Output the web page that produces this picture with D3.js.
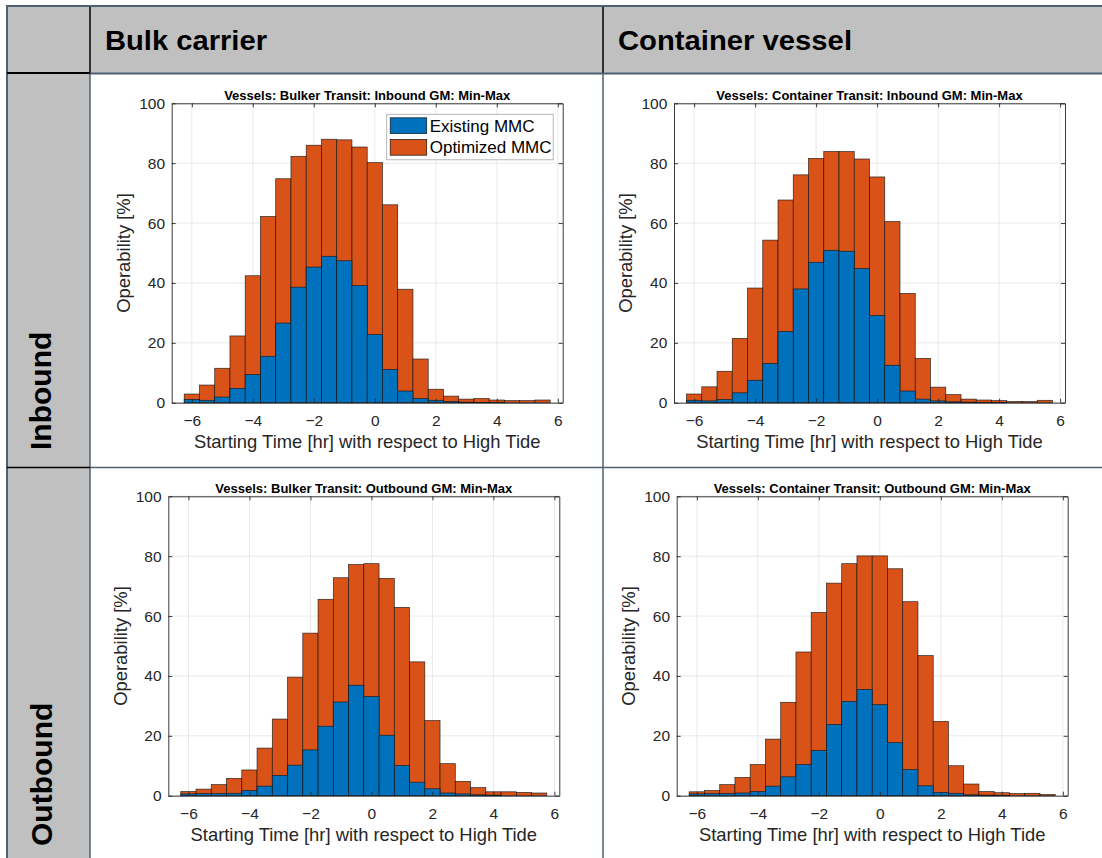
<!DOCTYPE html>
<html>
<head>
<meta charset="utf-8">
<script src="https://cdn.jsdelivr.net/npm/d3@7"></script>
<style>
    body { margin: 0; background: #fff; }
    svg { display: block; font-family: "Liberation Sans", Arial, sans-serif; }
</style>
</head>
<body>
<svg id="sheet" width="1102" height="858"></svg>
<script>
// bin centres (hours relative to high tide)
const binCenters = [-6, -5.5, -5, -4.5, -4, -3.5, -3, -2.5, -2, -1.5, -1, -0.5,
                    0, 0.5, 1, 1.5, 2, 2.5, 3, 3.5, 4, 4.5, 5, 5.5];
const xTicks = [-6, -4, -2, 0, 2, 4, 6];
const yTicks = [0, 20, 40, 60, 80, 100];

const columnHeaders = ["Bulk carrier", "Container vessel"];
const rowHeaders = ["Inbound", "Outbound"];
const seriesNames = ["Existing MMC", "Optimized MMC"];

const bulkInboundExisting = [1.1, 0.8, 1.9, 4.8, 9.4, 15.5, 26.6, 38.6, 45.3, 48.9, 47.4, 39.1,
                             22.8, 11.1, 3.9, 1.4, 0.8, 0.4, 0.2, 0.1, 0.05, 0, 0, 0];
const bulkInboundOptimized = [2.9, 5.9, 11.5, 22.3, 42.4, 62.2, 74.8, 82.3, 86.0, 88.0, 87.8, 85.4,
                              80.2, 66.1, 37.9, 14.6, 4.5, 2.2, 1.2, 1.4, 0.9, 0.7, 0.7, 0.9];

const containerInboundExisting = [0.8, 0.6, 1.1, 3.3, 7.5, 13.1, 23.8, 38.0, 46.9, 50.9, 50.6, 44.8,
                                  29.1, 12.5, 3.9, 1.2, 0.6, 0.3, 0.2, 0.1, 0.05, 0, 0, 0];
const containerInboundOptimized = [2.9, 5.3, 10.5, 21.5, 38.3, 54.3, 67.7, 76.1, 81.6, 83.9, 83.9, 81.4,
                                   75.4, 60.5, 36.5, 14.8, 5.2, 2.7, 1.2, 0.9, 0.7, 0.4, 0.4, 0.8];

const bulkOutboundExisting = [0.6, 0.7, 0.7, 0.8, 1.7, 3.2, 6.8, 10.2, 15.3, 23.2, 31.3, 36.9,
                              33.1, 20.2, 10.1, 4.5, 2.3, 0.9, 0.6, 0.3, 0.2, 0, 0, 0];
const bulkOutboundOptimized = [1.4, 2.2, 3.7, 5.8, 8.6, 15.9, 25.6, 39.6, 54.3, 65.6, 72.8, 77.2,
                               77.5, 72.6, 62.9, 44.7, 25.1, 10.7, 4.8, 2.7, 1.3, 1.3, 1.1, 0.9];

const containerOutboundExisting = [0.6, 0.7, 0.7, 0.9, 1.4, 3.2, 6.3, 10.4, 15.1, 23.8, 31.5, 35.5,
                                   30.4, 17.7, 8.7, 3.3, 1.1, 0.8, 0.3, 0.2, 0.1, 0, 0, 0];
const containerOutboundOptimized = [1.3, 1.7, 3.7, 6.1, 10.4, 18.9, 31.2, 48.0, 61.2, 71.0, 77.5, 80.1,
                                    80.1, 75.8, 64.8, 46.8, 24.8, 10.0, 3.9, 1.4, 1.0, 0.7, 0.8, 0.4];

const panelTitles = [
    "Vessels: Bulker Transit: Inbound GM: Min-Max",
    "Vessels: Container Transit: Inbound GM: Min-Max",
    "Vessels: Bulker Transit: Outbound GM: Min-Max",
    "Vessels: Container Transit: Outbound GM: Min-Max"
];

const blue = "#0072BD";
const orange = "#D95319";
const ink = "#262626";
const slate = "#4f6070";
const cellGray = "#c0c0c0";

const svg = d3.select("#sheet");
svg.append("rect").attr("width", 1102).attr("height", 858).attr("fill", "#fff");

// ---- table frame ----
svg.append("rect").attr("x", 7).attr("y", 7).attr("width", 1095).attr("height", 66).attr("fill", cellGray);
svg.append("rect").attr("x", 7).attr("y", 73).attr("width", 83).attr("height", 785).attr("fill", cellGray);

const line = (x1, y1, x2, y2, color, w) =>
    svg.append("line").attr("x1", x1).attr("y1", y1).attr("x2", x2).attr("y2", y2)
        .attr("stroke", color).attr("stroke-width", w);

line(6, 6, 1102, 6, slate, 2);
line(7, 5, 7, 858, slate, 2);
line(90, 7, 90, 73, "#000", 1.5);
line(603, 7, 603, 73, "#000", 1.5);
line(90, 73, 90, 858, slate, 1.5);
line(603, 73, 603, 858, slate, 1.5);
line(7, 73, 90, 73, "#000", 2);
line(90, 73.5, 1102, 73.5, slate, 2);
line(7, 467.5, 90, 467.5, "#000", 1.5);
line(90, 467.5, 1102, 467.5, slate, 1.5);

svg.selectAll(".col-head")
    .data(columnHeaders)
    .enter()
    .append("text")
    .attr("class", "col-head")
    .attr("x", (d, i) => [105, 618][i])
    .attr("y", 50)
    .attr("font-size", 27)
    .attr("font-weight", "bold")
    .attr("textLength", (d, i) => [162, 234][i])
    .attr("lengthAdjust", "spacingAndGlyphs")
    .text(d => d);

svg.selectAll(".row-head")
    .data(rowHeaders)
    .enter()
    .append("text")
    .attr("class", "row-head")
    .attr("transform", (d, i) => `translate(${[51, 52][i]},${[450, 846][i]}) rotate(-90)`)
    .attr("font-size", 30)
    .attr("font-weight", "bold")
    .text(d => d);

// ---- panels ----
const panels = [
    { title: panelTitles[0], existing: bulkInboundExisting, optimized: bulkInboundOptimized, left: 171.7, top: 103.3, legend: true },
    { title: panelTitles[1], existing: containerInboundExisting, optimized: containerInboundOptimized, left: 674, top: 103.3 },
    { title: panelTitles[2], existing: bulkOutboundExisting, optimized: bulkOutboundOptimized, left: 168.3, top: 496.3 },
    { title: panelTitles[3], existing: containerOutboundExisting, optimized: containerOutboundOptimized, left: 676.7, top: 496.3 }
];

const W = 391;
const H = 299.4;

panels.forEach(p => drawPanel(p));

function drawPanel(p) {
    const g = svg.append("g").attr("transform", `translate(${p.left},${p.top})`);

    const x = d3.scaleLinear().domain([-6.66, 6.16]).range([0, W]);
    const y = d3.scaleLinear().domain([0, 100]).range([H, 0]);

    // grid
    g.selectAll(".gx").data(xTicks).enter().append("line")
        .attr("x1", d => x(d)).attr("x2", d => x(d)).attr("y1", 0).attr("y2", H)
        .attr("stroke", "#e3e3e3").attr("stroke-width", 0.8);
    g.selectAll(".gy").data(yTicks).enter().append("line")
        .attr("x1", 0).attr("x2", W).attr("y1", d => y(d)).attr("y2", d => y(d))
        .attr("stroke", "#e3e3e3").attr("stroke-width", 0.8);

    // optimized behind, existing in front
    const layers = [
        { values: p.optimized, color: orange },
        { values: p.existing, color: blue }
    ];
    layers.forEach(layer => {
        g.append("g").selectAll("rect")
            .data(binCenters.map((c, i) => ({ c, v: layer.values[i] })))
            .enter()
            .append("rect")
            .attr("x", d => x(d.c - 0.25))
            .attr("width", d => x(d.c + 0.25) - x(d.c - 0.25))
            .attr("y", d => y(d.v))
            .attr("height", d => y(0) - y(d.v))
            .attr("fill", layer.color)
            .attr("stroke", "#111")
            .attr("stroke-width", 0.7)
            .attr("stroke-opacity", 0.85);
    });

    // axes
    const styleAxis = sel => {
        sel.selectAll(".domain").attr("stroke", ink).attr("stroke-width", 0.9);
        sel.selectAll(".tick line").attr("stroke", ink).attr("stroke-width", 0.9);
        sel.selectAll(".tick text").attr("fill", ink).attr("font-size", 15.5)
            .attr("font-family", "'Liberation Sans', Arial, sans-serif");
    };

    g.append("g").attr("transform", `translate(0,${H})`)
        .call(d3.axisBottom(x).tickValues(xTicks).tickSizeInner(-4).tickSizeOuter(0).tickPadding(12))
        .call(styleAxis);
    g.append("g")
        .call(d3.axisTop(x).tickValues(xTicks).tickSizeInner(-4).tickSizeOuter(0).tickFormat(""))
        .call(styleAxis);
    g.append("g")
        .call(d3.axisLeft(y).tickValues(yTicks).tickSizeInner(-4).tickSizeOuter(0).tickPadding(6.7))
        .call(styleAxis);
    g.append("g").attr("transform", `translate(${W},0)`)
        .call(d3.axisRight(y).tickValues(yTicks).tickSizeInner(-4).tickSizeOuter(0).tickFormat(""))
        .call(styleAxis);

    // labels
    g.append("text")
        .attr("x", W / 2).attr("y", -3.5)
        .attr("text-anchor", "middle")
        .attr("font-size", 13)
        .attr("font-weight", "bold")
        .attr("fill", "#000")
        .text(p.title);

    g.append("text")
        .attr("x", W / 2).attr("y", H + 45.5)
        .attr("text-anchor", "middle")
        .attr("font-size", 18.4)
        .attr("fill", ink)
        .text("Starting Time [hr] with respect to High Tide");

    g.append("text")
        .attr("transform", `translate(-41.7,${H / 2}) rotate(-90)`)
        .attr("text-anchor", "middle")
        .attr("font-size", 18.4)
        .attr("fill", ink)
        .text("Operability [%]");

    if (p.legend) {
        const lg = g.append("g").attr("transform", "translate(215,11)");
        lg.append("rect").attr("width", 166.5).attr("height", 45.5)
            .attr("fill", "#fff").attr("stroke", "#a6a6a6").attr("stroke-width", 0.8);
        const items = lg.selectAll(".item")
            .data(seriesNames)
            .enter()
            .append("g")
            .attr("transform", (d, i) => `translate(3.5,${3.5 + i * 21.6})`);
        items.append("rect")
            .attr("width", 36.5).attr("height", 15.8)
            .attr("fill", (d, i) => [blue, orange][i])
            .attr("stroke", "#111").attr("stroke-width", 0.7);
        items.append("text")
            .attr("x", 39.5).attr("y", 14)
            .attr("font-size", 17)
            .attr("fill", "#000")
            .text(d => d);
    }
}
</script>
</body>
</html>
